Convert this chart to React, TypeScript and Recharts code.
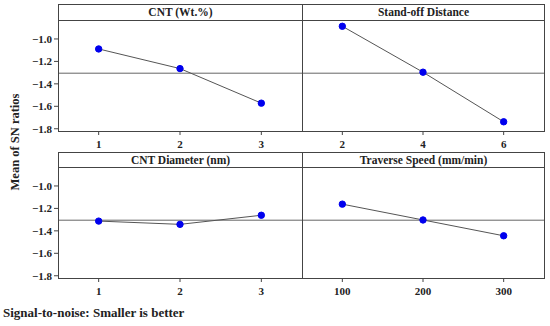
import { LineChart, Line, XAxis, YAxis, ReferenceLine } from "recharts";

const cntLevels = [1, 2, 3];
const cntMeans = [-1.089, -1.264, -1.572];
const standoffLevels = [2, 4, 6];
const standoffMeans = [-0.887, -1.296, -1.738];
const diameterLevels = [1, 2, 3];
const diameterMeans = [-1.313, -1.342, -1.261];
const speedLevels = [100, 200, 300];
const speedMeans = [-1.162, -1.303, -1.444];
const grandMean = -1.305;
const yTicks = [-1.0, -1.2, -1.4, -1.6, -1.8];

const FONT = "'Liberation Serif', 'Times New Roman', serif";
const FRAME = "#444";

const fmt = (v: number) => v.toFixed(1).replace("-", "\u2212");

interface PanelProps {
  title: string;
  levels: number[];
  means: number[];
  xDomain: [number, number];
  plotLeft: number;
  plotRight: number;
  titleTop: number;
  plotTop: number;
  plotBottom: number;
  showY: boolean;
}

function Panel({ title, levels, means, xDomain, plotLeft, plotRight, titleTop, plotTop, plotBottom, showY }: PanelProps) {
  const data = levels.map((lv, i) => ({ level: lv, mean: means[i] }));
  const yw = showY ? 58 : 0;
  const w = plotRight - plotLeft + yw;
  const h = plotBottom - plotTop + 22;
  return (
    <>
      <div
        style={{
          position: "absolute",
          left: plotLeft,
          top: titleTop,
          width: plotRight - plotLeft + 1,
          height: plotBottom - titleTop + 1,
          border: `1px solid ${FRAME}`,
          boxSizing: "border-box",
          pointerEvents: "none",
          zIndex: 2,
        }}
      />
      <div
        style={{
          position: "absolute",
          left: plotLeft,
          top: titleTop,
          width: plotRight - plotLeft + 1,
          height: plotTop - titleTop,
          borderBottom: `1px solid ${FRAME}`,
          boxSizing: "border-box",
          textAlign: "center",
          fontFamily: FONT,
          fontWeight: "bold",
          fontSize: 11.5,
          lineHeight: `${plotTop - titleTop}px`,
          color: "#222",
        }}
      >
        {title}
      </div>
      <div style={{ position: "absolute", left: plotLeft - yw, top: plotTop }}>
        <LineChart width={w} height={h} data={data} margin={{ top: 0, right: 0, left: 0, bottom: 0 }}>
          <XAxis
            dataKey="level"
            type="number"
            domain={xDomain}
            ticks={levels}
            axisLine={false}
            tickLine={{ stroke: FRAME }}
            tickSize={4}
            tickMargin={5}
            height={22}
            tick={{ fill: "#222", fontSize: 11, fontFamily: FONT, fontWeight: "bold" }}
          />
          <YAxis
            type="number"
            domain={[-1.82, -0.84]}
            ticks={yTicks}
            hide={!showY}
            width={yw}
            axisLine={false}
            tickLine={{ stroke: FRAME }}
            tickSize={4}
            tickMargin={2}
            tickFormatter={fmt}
            tick={{ fill: "#222", fontSize: 11, fontFamily: FONT, fontWeight: "bold" }}
          />
          <ReferenceLine y={grandMean} stroke="#666" strokeWidth={1} />
          <Line
            dataKey="mean"
            stroke="#555"
            strokeWidth={1}
            dot={{ r: 3.2, fill: "#0000ee", stroke: "#0000ee" }}
            isAnimationActive={false}
          />
        </LineChart>
      </div>
    </>
  );
}

export default function App() {
  return (
    <div style={{ position: "absolute", left: 0, top: 0, width: 550, height: 326, background: "#fff", overflow: "hidden" }}>
      <Panel title="CNT (Wt.%)" levels={cntLevels} means={cntMeans} xDomain={[0.5, 3.5]}
        plotLeft={58} plotRight={302} titleTop={4} plotTop={21} plotBottom={131} showY />
      <Panel title="Stand-off Distance" levels={standoffLevels} means={standoffMeans} xDomain={[1, 7]}
        plotLeft={302} plotRight={544} titleTop={4} plotTop={21} plotBottom={131} showY={false} />
      <Panel title="CNT Diameter (nm)" levels={diameterLevels} means={diameterMeans} xDomain={[0.5, 3.5]}
        plotLeft={58} plotRight={302} titleTop={152} plotTop={168} plotBottom={278} showY />
      <Panel title="Traverse Speed (mm/min)" levels={speedLevels} means={speedMeans} xDomain={[50, 350]}
        plotLeft={302} plotRight={544} titleTop={152} plotTop={168} plotBottom={278} showY={false} />
      <div
        style={{
          position: "absolute",
          left: 15,
          top: 142,
          transform: "translate(-50%, -50%) rotate(-90deg)",
          whiteSpace: "nowrap",
          fontFamily: FONT,
          fontWeight: "bold",
          fontSize: 12.5,
          color: "#222",
        }}
      >
        Mean of SN ratios
      </div>
      <div
        style={{
          position: "absolute",
          left: 3,
          top: 305,
          whiteSpace: "nowrap",
          fontFamily: FONT,
          fontWeight: "bold",
          fontSize: 13,
          color: "#222",
        }}
      >
        Signal-to-noise: Smaller is better
      </div>
    </div>
  );
}
